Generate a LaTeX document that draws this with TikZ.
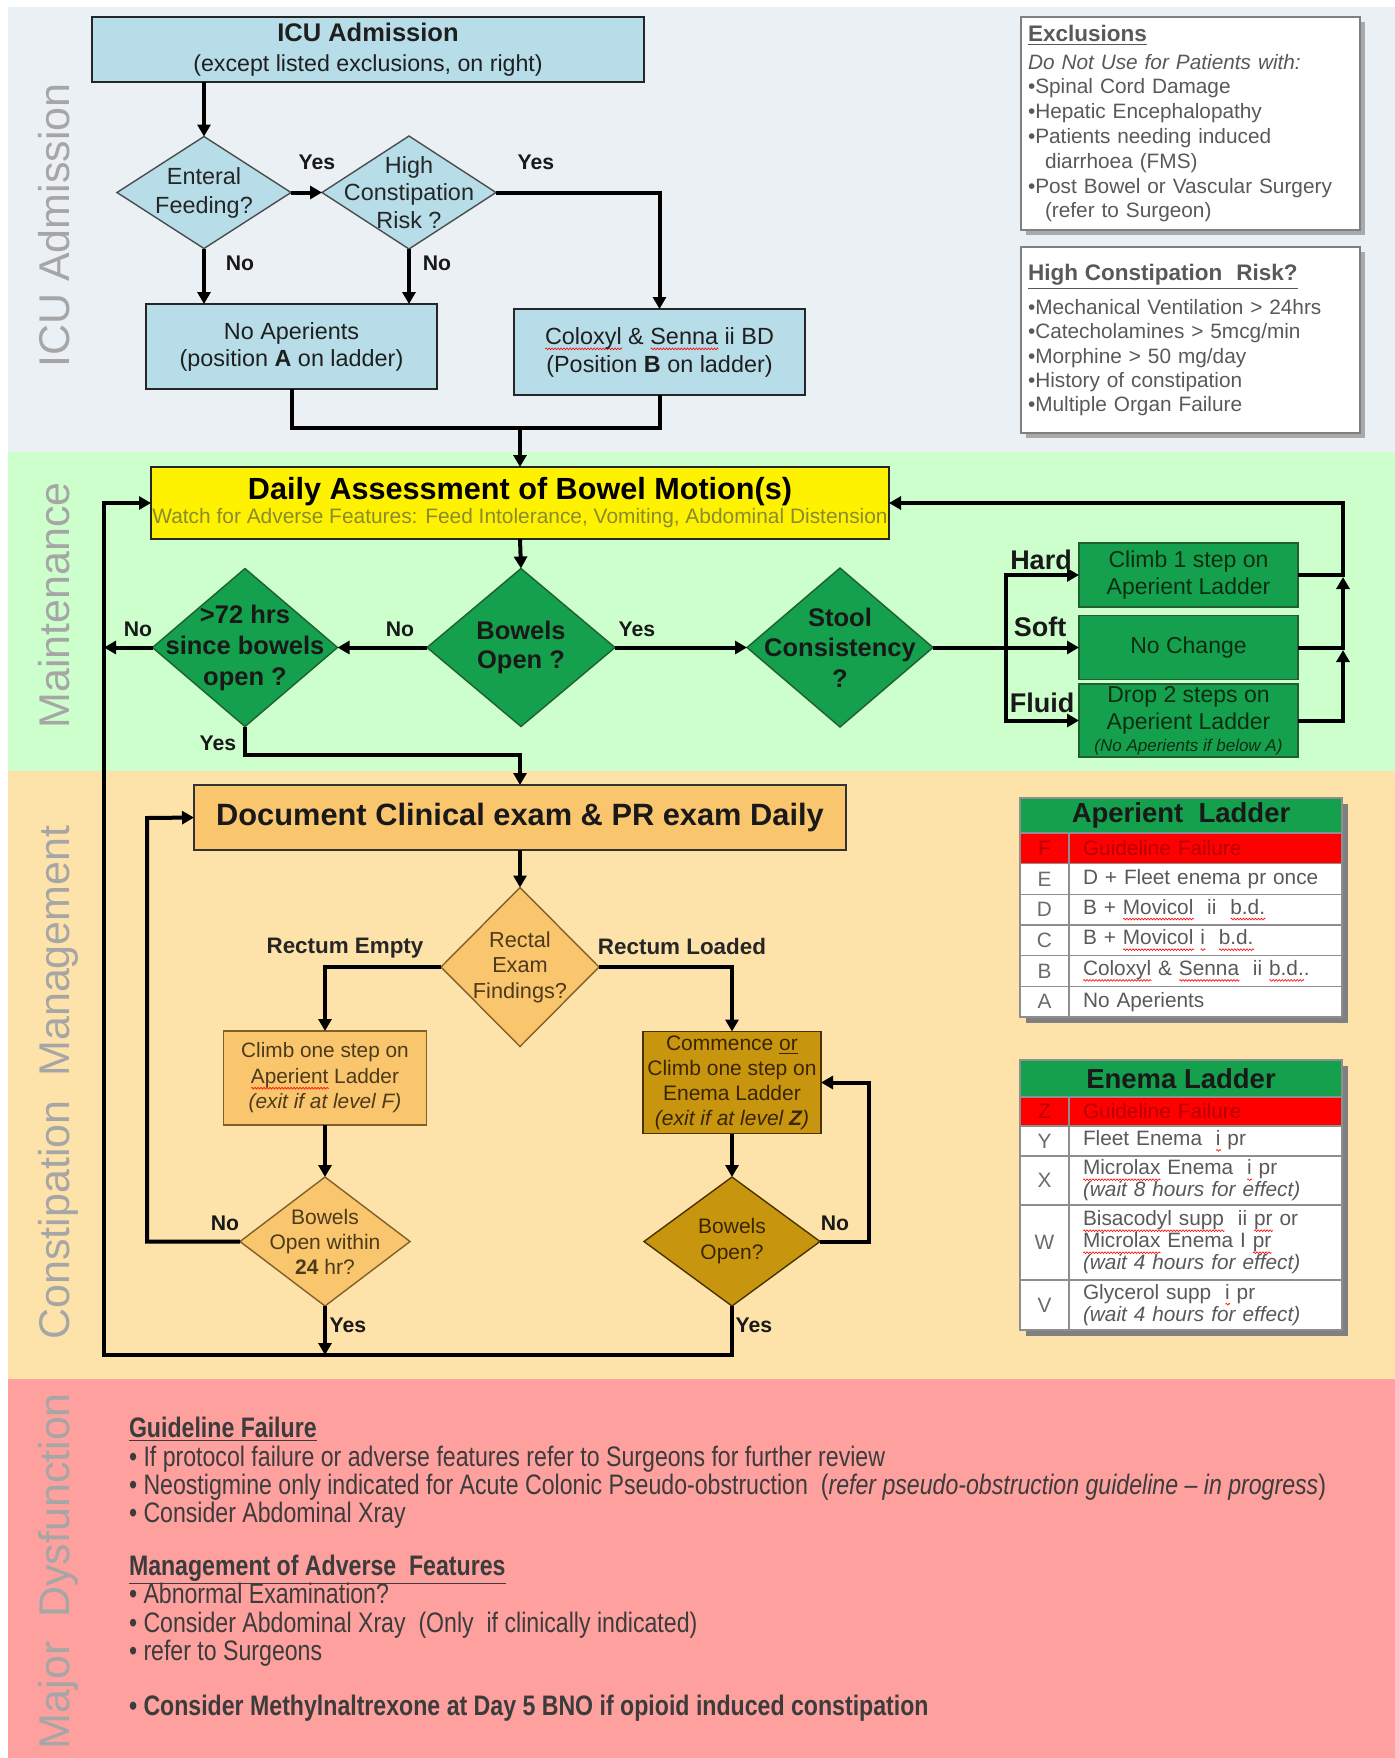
\documentclass[tikz,border=0pt]{standalone}
\usepackage{fontspec}
\setmainfont{Liberation Sans}
\newfontfamily\narrowfont{Liberation Sans}[FakeStretch=0.82]
\usetikzlibrary{shapes.geometric,arrows.meta,shadows,decorations.pathmorphing}
\newbox\sqb
\newcommand\sq[1]{\setbox\sqb\hbox{#1}\leavevmode\rlap{\tikz[baseline=0pt]\draw[red, line width=0.3pt, decorate, decoration={zigzag, segment length=1.5pt, amplitude=0.45pt}] (0pt,-2.4pt) -- (\the\wd\sqb,-2.4pt);}\box\sqb}
\definecolor{icuband}{HTML}{EAF0F3}
\definecolor{icubox}{HTML}{B7DDE8}
\definecolor{mband}{HTML}{CCFFCC}
\definecolor{gfill}{HTML}{14A04C}
\definecolor{gdraw}{HTML}{1F5F30}
\definecolor{oband}{HTML}{FDE3A9}
\definecolor{ofill}{HTML}{F9C66E}
\definecolor{odraw}{HTML}{7F5F2A}
\definecolor{dfill}{HTML}{C8960E}
\definecolor{ddraw}{HTML}{4A3200}
\definecolor{rband}{HTML}{FDA09E}
\definecolor{sidegray}{HTML}{A6A6A6}
\definecolor{txgray}{HTML}{595959}
\definecolor{olivetx}{HTML}{8A8A2E}
\definecolor{brtx}{HTML}{4D3A1A}
\definecolor{dbtx}{HTML}{3A2500}
\definecolor{gtx}{HTML}{0E2E14}
\definecolor{tred}{HTML}{FF0000}
\definecolor{tredtx}{HTML}{B80000}
\definecolor{thead}{HTML}{14A04C}
\definecolor{tline}{HTML}{8E8E8E}
\definecolor{botx}{HTML}{3C3C3C}
\tikzset{
 every node/.style={inner sep=0pt, outer sep=0pt},
 wire/.style={line width=2pt},
 conn/.style={line width=2pt, -{Triangle[length=6pt,width=6.5pt]}},
 yn/.style={font=\fontsize{10.6pt}{12pt}\selectfont\bfseries, text=black!90},
 hsf/.style={font=\fontsize{13.5pt}{15pt}\selectfont\bfseries, text=black!90},
 icubx/.style={rectangle, draw=black!85, line width=0.7pt, fill=icubox, align=center, text=black!88},
 icudm/.style={diamond, draw=black!70, line width=0.7pt, fill=icubox},
 gbx/.style={rectangle, draw=gdraw, line width=0.7pt, fill=gfill, align=center, text=gtx, font=\fontsize{11.5pt}{13.5pt}\selectfont},
 gdm/.style={diamond, draw=gdraw, line width=0.7pt, fill=gfill},
 obx/.style={rectangle, draw=odraw, line width=0.7pt, fill=ofill, align=center, text=brtx},
 odm/.style={diamond, draw=odraw, line width=0.7pt, fill=ofill},
 dbx/.style={rectangle, draw=ddraw, line width=0.7pt, fill=dfill, align=center, text=dbtx},
 ddm/.style={diamond, draw=ddraw, line width=0.7pt, fill=dfill},
 dlab/.style={align=center},
 infobx/.style={rectangle, draw=black!50, line width=0.7pt, fill=white, align=left, text=txgray, inner xsep=3.5pt, drop shadow={shadow xshift=2.5pt, shadow yshift=-2.5pt, fill=black!45, opacity=0.7}},
 side/.style={rotate=90, text=sidegray, font=\fontsize{21.5pt}{24pt}\selectfont, anchor=base},
 cellL/.style={rectangle, draw=tline, line width=0.8pt, fill=white, text=black!58, minimum width=24.5pt, font=\fontsize{10.4pt}{11pt}\selectfont},
 cellR/.style={rectangle, draw=tline, line width=0.8pt, fill=white, text=black!65, minimum width=136.5pt, text width=122.5pt, inner xsep=7pt, align=left, font=\fontsize{10.4pt}{11pt}\selectfont},
 thd/.style={rectangle, draw=tline, line width=0.8pt, fill=thead, minimum width=161pt, font=\fontsize{13.75pt}{15pt}\selectfont\bfseries, text=black!90},
 bot/.style={anchor=base west, text=botx, font=\narrowfont\fontsize{14.1pt}{16pt}\selectfont},
}
\begin{document}
\begin{tikzpicture}[x=0.5pt,y=-0.5pt]
\useasboundingbox (0,0) rectangle (1395,1758);
\fill[white] (0,0) rectangle (1395,1758);
% bands
\fill[icuband] (8,7) rectangle (1395,452);
\fill[mband] (8,452) rectangle (1395,771);
\fill[oband] (8,771) rectangle (1395,1379);
\fill[rband] (8,1379) rectangle (1395,1758);
% side labels
\node[side] (s1) at (69,225.5) {ICU Admission};
\node[side] (s2) at (69,605.5) {Maintenance};
\node[side] (s3) at (69,1082.5) {Constipation\ \ Management};
\node[side, anchor=base east] (s4) at (69,1393) {Major\ \ Dysfunction};

% ===== ICU admission =====
\node[icubx, minimum width=276pt, minimum height=32.5pt, font=\fontsize{11.6pt}{15pt}\selectfont] (icu) at (368,49.5)
 {{\fontsize{12.75pt}{15pt}\selectfont\bfseries ICU Admission}\\(except listed exclusions, on right)};
\node[icudm, minimum width=87pt, minimum height=56pt,
 label={[dlab, font=\fontsize{11.7pt}{14.5pt}\selectfont, text=black!85]center:{Enteral\\Feeding?}}] (ent) at (204,192.5) {};
\node[icudm, minimum width=87pt, minimum height=56.5pt,
 label={[dlab, font=\fontsize{11.7pt}{13.75pt}\selectfont, text=black!85]center:{High\\Constipation\\Risk ?}}] (high) at (409,192.5) {};
\node[icubx, minimum width=145.5pt, minimum height=42.5pt, font=\fontsize{11.7pt}{13.5pt}\selectfont] (noap) at (291.5,346.5)
 {No Aperients\\(position \textbf{A} on ladder)};
\node[icubx, minimum width=145.5pt, minimum height=43pt, font=\fontsize{11.7pt}{14pt}\selectfont] (colox) at (659.5,352)
 {\sq{Coloxyl} \& \sq{Senna} ii BD\\(Position \textbf{B} on ladder)};

\node[infobx, minimum width=169.5pt, minimum height=106.5pt, text width=162.5pt, font=\fontsize{10.4pt}{12.4pt}\selectfont] (excl) at (1190.5,123.5)
 {{\fontsize{11.25pt}{14pt}\selectfont\bfseries\underline{Exclusions}}\\[1.5pt]
  \textit{Do Not Use for Patients with:}\\
  •Spinal Cord Damage\\
  •Hepatic Encephalopathy\\
  •Patients needing induced\\
  \hspace*{8.5pt}diarrhoea (FMS)\\
  •Post Bowel or Vascular Surgery\\
  \hspace*{8.5pt}(refer to Surgeon)};
\node[infobx, minimum width=169.5pt, minimum height=93pt, text width=162.5pt, font=\fontsize{10.4pt}{12.1pt}\selectfont] (risk) at (1190.5,340)
 {{\fontsize{11.25pt}{14pt}\selectfont\bfseries\underline{High Constipation\ \ Risk?}}\\[5pt]
  •Mechanical Ventilation > 24hrs\\
  •Catecholamines > 5mcg/min\\
  •Morphine > 50 mg/day\\
  •History of constipation\\
  •Multiple Organ Failure};

\draw[conn] (ent.north |- icu.south) -- (ent.north);
\draw[conn] (ent.east) -- (high.west);
\draw[conn] (high.east) -| (colox.north);
\draw[conn] (ent.south) -- (ent.south |- noap.north);
\draw[conn] (high.south) -- (high.south |- noap.north);
\coordinate (mg) at (520,428);
\draw[wire] (noap.south) |- (mg);
\draw[wire] (colox.south) |- (mg);
\node[yn] (y1) at (317,162) {Yes};
\node[yn] (y2) at (536,162) {Yes};
\node[yn] (n1) at (240,263) {No};
\node[yn] (n2) at (437,263) {No};

% ===== Maintenance =====
\node[rectangle, draw=black!85, line width=0.7pt, fill=yellow, align=center, minimum width=369pt, minimum height=36pt] (daily) at (520,503)
 {{\fontsize{15.3pt}{16pt}\selectfont\bfseries Daily Assessment of Bowel Motion(s)}\\
  {\fontsize{10.45pt}{16pt}\selectfont\color{olivetx}Watch for Adverse Features: Feed Intolerance, Vomiting, Abdominal Distension}};
\draw[conn] (mg) -- (daily.north);
\node[gdm, minimum width=94pt, minimum height=79pt,
 label={[dlab, font=\fontsize{12.75pt}{14.5pt}\selectfont\bfseries, text=black!90]center:{Bowels\\Open ?}}] (bo) at (521,647.5) {};
\node[gdm, minimum width=92.5pt, minimum height=79pt,
 label={[dlab, font=\fontsize{12.75pt}{15.5pt}\selectfont\bfseries, text=black!90]center:{>72 hrs\\since bowels\\open ?}}] (d72) at (245,647.5) {};
\node[gdm, minimum width=93pt, minimum height=79.5pt,
 label={[dlab, font=\fontsize{12.75pt}{15.25pt}\selectfont\bfseries, text=black!90]center:{Stool\\Consistency\\?}}] (stool) at (840,647.5) {};
\node[gbx, minimum width=109.5pt, minimum height=32pt] (hard) at (1188.5,575) {Climb 1 step on\\Aperient Ladder};
\node[gbx, minimum width=109.5pt, minimum height=32pt] (nochange) at (1188.5,647.5) {No Change};
\node[gbx, minimum width=109.5pt, minimum height=36.5pt] (fluid) at (1188.5,720.5)
 {Drop 2 steps on\\Aperient Ladder\\[-2.5pt]{\fontsize{8.5pt}{10pt}\selectfont\itshape (No Aperients if below A)}};

\draw[conn] (daily.south) -- (bo.north);
\draw[conn] (bo.west) -- (d72.east);
\draw[conn] (bo.east) -- (stool.west);
\coordinate (BL) at (104,1355);
\draw[conn] (d72.west) -- (d72.west -| BL);
\coordinate (sp) at (1006,647.5);
\draw[wire] (stool.east) -- (sp);
\draw[conn] (sp) |- (hard.west);
\draw[conn] (sp) -- (nochange.west);
\draw[conn] (sp) |- (fluid.west);
\coordinate (c1) at (1343,577);
\coordinate (c2) at (1343,650);
\coordinate (rt) at (1343,503);
\draw[conn] (fluid.east) -| (c2);
\draw[conn] (nochange.east) -| (c1);
\draw[conn] (hard.east) -| (rt) -- (daily.east);
\node[hsf] (lh) at (1041,560) {Hard};
\node[hsf] (ls) at (1040,627) {Soft};
\node[hsf] (lf) at (1042,703) {Fluid};
\node[yn] (n3) at (138,629) {No};
\node[yn] (n4) at (400,629) {No};
\node[yn] (y3) at (637,629) {Yes};
\node[yn] (y4) at (218,743) {Yes};

% ===== Constipation management =====
\node[obx, minimum width=326pt, minimum height=32.5pt, draw=black!80, text=black!90, font=\fontsize{15.4pt}{18pt}\selectfont\bfseries] (doc) at (520,817.5)
 {Document Clinical exam \& PR exam Daily};
\coordinate (yj) at (520,755);
\draw[conn] (d72.south) |- (yj) -- (doc.north);
\node[odm, minimum width=79pt, minimum height=79.5pt,
 label={[dlab, font=\fontsize{10.85pt}{12.75pt}\selectfont, text=brtx]center:{Rectal\\Exam\\Findings?}}] (rect) at (520,967) {};
\node[obx, minimum width=101.5pt, minimum height=47pt, font=\fontsize{10.4pt}{12.75pt}\selectfont] (climb) at (325,1078)
 {Climb one step on\\\sq{Aperient} Ladder\\\textit{(exit if at level F)}};
\node[odm, minimum width=85pt, minimum height=64.5pt,
 label={[dlab, font=\fontsize{10.5pt}{12.5pt}\selectfont, text=brtx]center:{Bowels\\Open within\\\textbf{24} hr?}}] (b24) at (325,1241.5) {};
\node[dbx, minimum width=89pt, minimum height=51pt, font=\fontsize{10.5pt}{12.5pt}\selectfont] (comm) at (732,1082.5)
 {Commence \underline{or}\\Climb one step on\\Enema Ladder\\\textit{(exit if at level \textbf{Z})}};
\node[ddm, minimum width=88pt, minimum height=64.5pt,
 label={[dlab, font=\fontsize{10.5pt}{13pt}\selectfont, text=dbtx]center:{Bowels\\Open?}}] (bo2) at (732,1241.5) {};

\draw[conn] (doc.south) -- (rect.north);
\draw[conn] (rect.west) -| (climb.north);
\draw[conn] (rect.east) -| (comm.north);
\draw[conn] (climb.south) -- (b24.north);
\draw[conn] (comm.south) -- (bo2.north);
\coordinate (L2) at (147,818);
\draw[conn] (b24.west) -| (L2) -- (doc.west);
\draw[conn] (b24.south) -- (b24.south |- BL);
\draw[conn] (bo2.east) -- ++(49,0) |- (comm.east);
\draw[conn] (bo2.south) |- (BL) |- (daily.west);
\node[font=\fontsize{11.2pt}{13pt}\selectfont\bfseries, text=black!85] (re) at (345,948) {Rectum Empty};
\node[font=\fontsize{11.2pt}{13pt}\selectfont\bfseries, text=black!85] (rl) at (682,946) {Rectum Loaded};
\node[yn] (n5) at (225,1223) {No};
\node[yn] (y5) at (348,1325) {Yes};
\node[yn] (n6) at (835,1223) {No};
\node[yn] (y6) at (754,1325) {Yes};

% ===== Aperient ladder =====
\fill[black!50] (1026,804) rectangle (1348,1023);
\node[thd, minimum height=17.5pt] (apH) at (1181,815.5) {Aperient\ \ Ladder};
\node[cellL, fill=tred, text=tredtx, minimum height=15.33pt] (apF) at (1044.5,848.3) {F};
\node[cellR, fill=tred, text=tredtx, minimum height=15.33pt] (apFt) at (1205.5,848.3) {Guideline Failure};
\node[cellL, minimum height=15.33pt] (apE) at (1044.5,879) {E};
\node[cellR, minimum height=15.33pt] (apEt) at (1205.5,879) {D + Fleet enema pr once};
\node[cellL, minimum height=15.33pt] (apD) at (1044.5,909.7) {D};
\node[cellR, minimum height=15.33pt] (apDt) at (1205.5,909.7) {B + \sq{Movicol}\ \ ii\ \ \sq{b.d.}};
\node[cellL, minimum height=15.33pt] (apC) at (1044.5,940.3) {C};
\node[cellR, minimum height=15.33pt] (apCt) at (1205.5,940.3) {B + \sq{Movicol}\ \sq{i}\ \ \sq{b.d.}};
\node[cellL, minimum height=15.33pt] (apB) at (1044.5,971) {B};
\node[cellR, minimum height=15.33pt] (apBt) at (1205.5,971) {\sq{Coloxyl} \& \sq{Senna}\ \ ii \sq{b.d.}.};
\node[cellL, minimum height=15.33pt] (apA) at (1044.5,1001.7) {A};
\node[cellR, minimum height=15.33pt] (apAt) at (1205.5,1001.7) {No Aperients};

% ===== Enema ladder =====
\fill[black!50] (1026,1066) rectangle (1348,1336);
\node[thd, minimum height=18.5pt] (enH) at (1181,1078.5) {Enema Ladder};
\node[cellL, fill=tred, text=tredtx, minimum height=14.5pt] (enZ) at (1044.5,1111.5) {Z};
\node[cellR, fill=tred, text=tredtx, minimum height=14.5pt] (enZt) at (1205.5,1111.5) {Guideline Failure};
\node[cellL, minimum height=15pt] (enY) at (1044.5,1141) {Y};
\node[cellR, minimum height=15pt] (enYt) at (1205.5,1141) {Fleet Enema\ \ \sq{i} pr};
\node[cellL, minimum height=24.5pt] (enX) at (1044.5,1180.5) {X};
\node[cellR, minimum height=24.5pt] (enXt) at (1205.5,1180.5) {\sq{Microlax} Enema\ \ \sq{i} pr\\\textit{(wait 8 hours for effect)}};
\node[cellL, minimum height=37.5pt] (enW) at (1044.5,1242.5) {W};
\node[cellR, minimum height=37.5pt] (enWt) at (1205.5,1242.5) {\sq{Bisacodyl supp}\ \ ii \sq{pr} or\\\sq{Microlax} Enema I \sq{pr}\\\textit{(wait 4 hours for effect)}};
\node[cellL, minimum height=25pt] (enV) at (1044.5,1305) {V};
\node[cellR, minimum height=25pt] (enVt) at (1205.5,1305) {Glycerol supp\ \ \sq{i} pr\\\textit{(wait 4 hours for effect)}};

% ===== Major dysfunction =====
\node[bot] (g1) at (129,1437) {\textbf{\underline{Guideline Failure}}};
\node[bot] (g2) at (129,1466) {• If protocol failure or adverse features refer to Surgeons for further review};
\node[bot] (g3) at (129,1494) {• Neostigmine only indicated for Acute Colonic Pseudo-obstruction\ \ (\textit{refer pseudo-obstruction guideline – in progress})};
\node[bot] (g4) at (129,1522) {• Consider Abdominal Xray};
\node[bot] (m1) at (129,1575) {\textbf{\underline{Management of Adverse\ \ Features}}};
\node[bot] (m2) at (129,1603) {• Abnormal Examination?};
\node[bot] (m3) at (129,1632) {• Consider Abdominal Xray\ \ (Only\ \ if clinically indicated)};
\node[bot] (m4) at (129,1660) {• refer to Surgeons};
\node[bot] (m5) at (129,1715) {\textbf{• Consider Methylnaltrexone at Day 5 BNO if opioid induced constipation}};
\end{tikzpicture}
\end{document}
